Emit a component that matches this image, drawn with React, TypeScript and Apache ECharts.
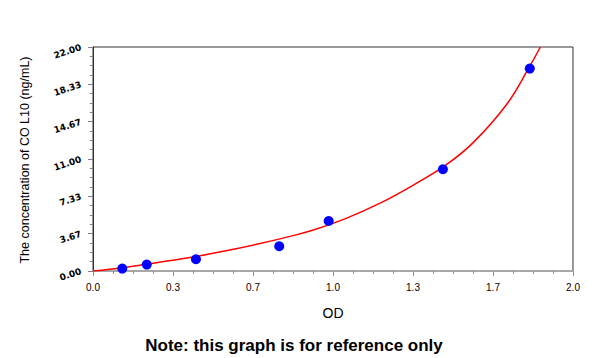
import React, { useEffect, useRef } from "react";
import * as echarts from "echarts";

const pointsOD = [0.122, 0.224, 0.429, 0.776, 0.982, 1.458, 1.82];
const pointsConc = [0.24, 0.63, 1.15, 2.43, 4.91, 9.99, 19.88];

const curveOD = [0, 0.126, 0.265, 0.404, 0.543, 0.682, 0.821, 0.918, 1.057, 1.196, 1.335, 1.474, 1.585, 1.724, 1.821, 1.864];
const curveConc = [0, 0.32, 0.82, 1.32, 1.93, 2.62, 3.4, 4.02, 5.19, 6.66, 8.44, 10.47, 12.63, 16.38, 20.16, 22.0];

const yTitle = "The concentration of CO L10 (ng/mL)";
const xTitle = "OD";
const note = "Note: this graph is for reference only";

export default function App() {
  const ref = useRef<HTMLDivElement>(null);
  useEffect(() => {
    document.body.style.margin = "0";
    if (!ref.current) return;
    const chart = echarts.init(ref.current, null, { renderer: "svg" });
    chart.setOption({
      animation: false,
      backgroundColor: "#ffffff",
      grid: {
        left: 93,
        right: 27,
        top: 47,
        bottom: 87,
        show: true,
        borderColor: "#333333",
        borderWidth: 1,
      },
      xAxis: {
        type: "value",
        min: 0,
        max: 2,
        interval: 1 / 3,
        axisLine: { show: true, lineStyle: { color: "#a8a8a8", width: 2 } },
        axisTick: { show: true, length: 5, lineStyle: { color: "#909090" } },
        minorTick: { show: true, splitNumber: 4, length: 3, lineStyle: { color: "#909090" } },
        splitLine: { show: false },
        axisLabel: {
          formatter: (v: number) => v.toFixed(1),
          color: "#000",
          fontFamily: "Liberation Sans, Arial",
          fontSize: 10,
          margin: 11,
        },
      },
      yAxis: {
        type: "value",
        min: 0,
        max: 22,
        interval: 22 / 6,
        axisLine: { show: true, lineStyle: { color: "#333333", width: 1 } },
        axisTick: { show: true, length: 5, lineStyle: { color: "#808080" } },
        minorTick: { show: true, splitNumber: 4, length: 3, lineStyle: { color: "#808080" } },
        splitLine: { show: false },
        axisLabel: {
          formatter: (v: number) => v.toFixed(2),
          color: "#000",
          fontFamily: "DejaVu Sans, Verdana",
          fontWeight: "bold",
          fontSize: 9,
          rotate: 18,
          margin: 12,
        },
      },
      graphic: [
        {
          type: "text",
          x: 25,
          y: 160,
          rotation: Math.PI / 2,
          style: {
            text: yTitle,
            fill: "#000",
            font: "12.5px 'Liberation Sans', Arial",
            textAlign: "center",
            textVerticalAlign: "middle",
          },
        },
        {
          type: "text",
          x: 333,
          y: 313,
          style: {
            text: xTitle,
            fill: "#000",
            font: "14px 'Liberation Sans', Arial",
            textAlign: "center",
            textVerticalAlign: "middle",
          },
        },
        {
          type: "text",
          x: 294,
          y: 345,
          style: {
            text: note,
            fill: "#000",
            font: "bold 17px 'Liberation Sans', Arial",
            textAlign: "center",
            textVerticalAlign: "middle",
          },
        },
      ],
      series: [
        {
          type: "line",
          data: curveOD.map((x, i) => [x, curveConc[i]]),
          smooth: 0.4,
          showSymbol: false,
          lineStyle: { color: "#ff0000", width: 1.5 },
          z: 2,
        },
        {
          type: "scatter",
          data: pointsOD.map((x, i) => [x, pointsConc[i]]),
          symbolSize: 10,
          itemStyle: { color: "#0000ff", opacity: 1 },
          z: 3,
        },
      ],
    });
    return () => chart.dispose();
  }, []);
  return <div ref={ref} style={{ width: 600, height: 358 }} />;
}
